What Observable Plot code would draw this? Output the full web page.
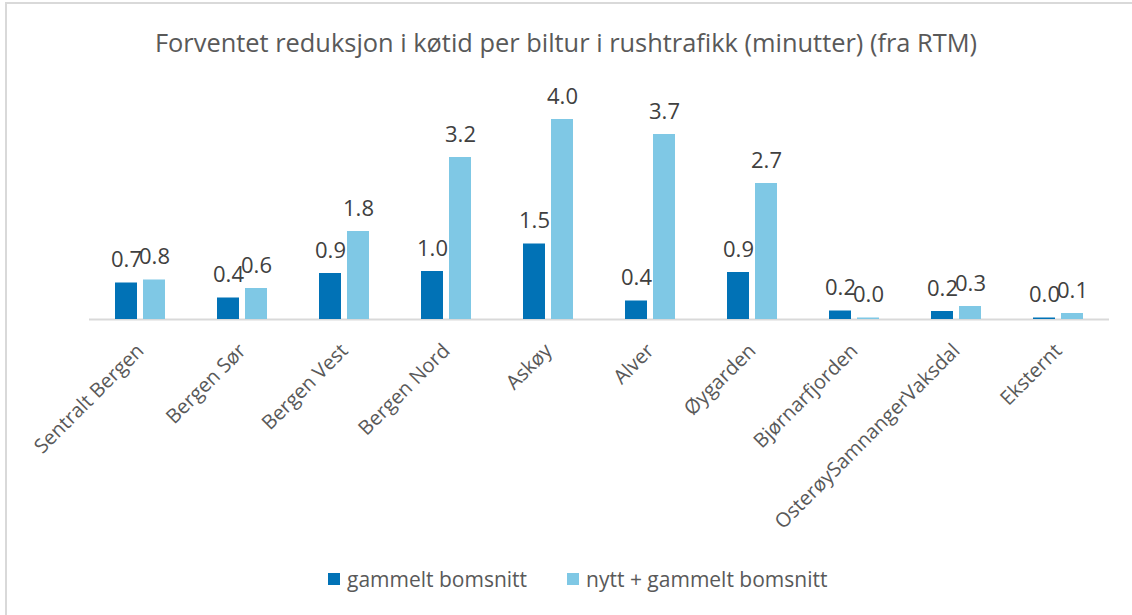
<!DOCTYPE html>
<html><head><meta charset="utf-8">
<script src="https://cdn.jsdelivr.net/npm/d3@7"></script>
<script src="https://cdn.jsdelivr.net/npm/@observablehq/plot@0.6"></script>
<style>
body{margin:0;background:#fff;font-family:"Open Sans",sans-serif;}
#wrap{position:relative;width:1132px;height:615px;overflow:hidden;}
#frame{position:absolute;left:5px;top:2px;width:1200px;height:700px;border-left:2px solid #d9d9d9;border-top:2px solid #d9d9d9;box-sizing:border-box;}
#title{position:absolute;top:25px;left:0;width:1132px;text-align:center;font-size:25.4px;line-height:34px;color:#595959;}
#chart{position:absolute;left:0;top:0;}
#legend{position:absolute;top:565px;left:328px;display:flex;align-items:center;font-size:21px;line-height:28px;color:#595959;}
.sw{display:inline-block;width:12px;height:12px;margin-right:7px;}
.item{display:flex;align-items:center;margin-right:40px;}
</style>
</head><body>
<div id="wrap">
  <div id="frame"></div>
  <div id="title"></div>
  <div id="chart"></div>
  <div id="legend"></div>
</div>
<script>
const titleText = "Forventet reduksjon i køtid per biltur i rushtrafikk (minutter) (fra RTM)";
const categories = ["Sentralt Bergen","Bergen Sør","Bergen Vest","Bergen Nord","Askøy","Alver","Øygarden","Bjørnarfjorden","OsterøySamnangerVaksdal","Eksternt"];
const series = ["gammelt bomsnitt","nytt + gammelt bomsnitt"];
const gammelt = [0.73,0.43,0.92,0.96,1.51,0.37,0.94,0.17,0.16,0.03];
const nytt    = [0.79,0.62,1.76,3.24,4.00,3.70,2.72,0.03,0.26,0.12];
const colors = ["#0172B6","#7FC8E5"];

const data = [];
categories.forEach((c,i)=>{
  data.push({cat:c, series:series[0], value:gammelt[i]});
  data.push({cat:c, series:series[1], value:nytt[i]});
});

document.getElementById("title").textContent = titleText;

const chart = Plot.plot({
  width:1132, height:545,
  marginTop:94, marginBottom:226, marginLeft:87, marginRight:22,
  style:{fontFamily:"Open Sans, sans-serif", fontSize:"20px", color:"#595959", background:"transparent"},
  fx:{domain:categories, padding:0, label:null, tickRotate:-45, tickSize:0, tickPadding:28},
  x:{domain:series, paddingInner:0.2, paddingOuter:0.86, axis:null},
  y:{domain:[0,4.5], axis:null},
  color:{domain:series, range:colors},
  marks:[
    Plot.ruleY([0],{stroke:"#d9d9d9", strokeWidth:2}),
    Plot.barY(data,{fx:"cat", x:"series", y:"value", fill:"series"}),
    Plot.text(data,{fx:"cat", x:"series", y:"value", text:d=>d.value.toFixed(1), lineAnchor:"bottom", dy:-16, fontSize:22, fill:"#404040"})
  ]
});
document.getElementById("chart").appendChild(chart);

const legend = document.getElementById("legend");
series.forEach((s,i)=>{
  const it = document.createElement("div"); it.className="item";
  const sw = document.createElement("span"); sw.className="sw"; sw.style.background=colors[i];
  const t = document.createElement("span"); t.textContent=s;
  it.appendChild(sw); it.appendChild(t); legend.appendChild(it);
});
</script>
</body></html>
